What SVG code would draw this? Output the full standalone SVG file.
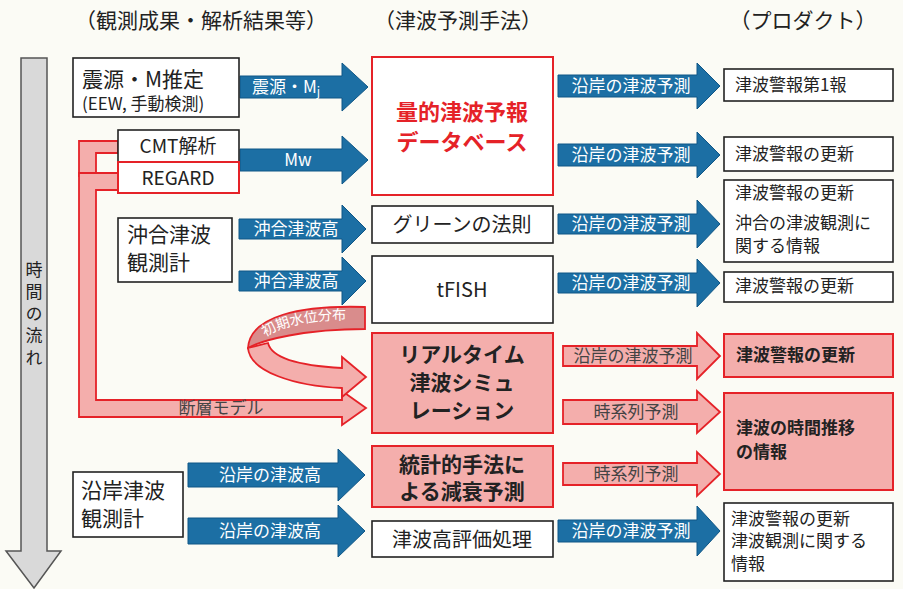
<svg xmlns="http://www.w3.org/2000/svg" width="903" height="589" viewBox="0 0 903 589">
<style>
text{font-family:"Noto Sans CJK JP","Noto Sans",sans-serif;fill:#222}
.hdr{font-size:21px;text-anchor:middle}
.box{fill:#fff;stroke:#222;stroke-width:1.6}
.rbox{fill:#fff;stroke:#e52228;stroke-width:2}
.pbox{fill:#f4aeac;stroke:#e52228;stroke-width:2}
.blue{fill:#1c6fa4;stroke:#0f5686;stroke-width:1}
.pink{fill:#f4aeac;stroke:#e52228;stroke-width:1.8}
.at{font-size:17px;fill:#fff;text-anchor:middle}
.pt{font-size:17px;fill:#444;text-anchor:middle}
.prod{font-size:17px}
.mid{text-anchor:middle}
.b{font-weight:bold}
</style>
<rect width="903" height="589" fill="#fbfbf5"/>
<g id="headers">
<text class="hdr" x="201" y="28">（観測成果・解析結果等）</text>
<text class="hdr" x="458" y="28">（津波予測手法）</text>
<text class="hdr" x="803" y="28">（プロダクト）</text>
</g>
<g id="time">
<polygon points="21,58 47,58 47,551 61,551 34,588 6,551 21,551" fill="#d9d9d9" stroke="#555" stroke-width="1.5"/>
<text x="34" y="261" font-size="17" writing-mode="vertical-rl" letter-spacing="5">時間の流れ</text>
</g>
<g id="connectors">
<polygon class="pink" points="118,141 79,141 79,176 96,176 96,153 118,153"/>
<polygon class="pink" points="118,173 79,173 79,417 342,417 342,425 366,408 342,391 342,400 96,400 96,190 118,190"/>
<text x="221" y="414" font-size="17" text-anchor="middle" style="fill:#444">断層モデル</text>
<path d="M365,307 C300,305 250,316 248,348 C262,340 305,329 365,329 Z" fill="#d98c8c" stroke="#e52228" stroke-width="1.8"/>
<path d="M248,348 C250,372 295,386 342,388 L342,397 L366,377 L342,357 L342,368 C305,366 272,360 268,343 Z" fill="#f4aeac" stroke="#e52228" stroke-width="1.8"/>
<path id="arc" d="M258,344 C272,326 312,318 364,320" fill="none"/>
<text font-size="14" style="fill:#fff"><textPath href="#arc" startOffset="10">初期水位分布</textPath></text>
<polygon class="blue" points="240,76 342,76 342,63 368,87 342,111 342,98 240,98"/>
<text class="at" x="286" y="93" style="fill:#fff">震源・M<tspan font-size="12" dy="3">j</tspan></text>
<polygon class="blue" points="240,149 342,149 342,136 368,160 342,184 342,171 240,171"/>
<text class="at" x="298" y="166" style="fill:#fff">Mw</text>
<polygon class="blue" points="239,219 342,219 342,205 366,229 342,253 342,239 239,239"/>
<text class="at" x="296" y="235" style="fill:#fff">沖合津波高</text>
<polygon class="blue" points="239,271 342,271 342,257 366,281 342,305 342,291 239,291"/>
<text class="at" x="296" y="287" style="fill:#fff">沖合津波高</text>
<polygon class="blue" points="188,463 338,463 338,449 365,475 338,501 338,487 188,487"/>
<text class="at" x="270" y="481" style="fill:#fff">沿岸の津波高</text>
<polygon class="blue" points="188,518 338,518 338,505 365,531 338,557 338,544 188,544"/>
<text class="at" x="270" y="537" style="fill:#fff">沿岸の津波高</text>
<polygon class="blue" points="558,75 697,75 697,63 720,86 697,109 697,97 558,97"/>
<text class="at" x="631" y="92" style="fill:#fff">沿岸の津波予測</text>
<polygon class="blue" points="558,144 697,144 697,132 720,155 697,178 697,166 558,166"/>
<text class="at" x="631" y="161" style="fill:#fff">沿岸の津波予測</text>
<polygon class="blue" points="558,214 697,214 697,200 720,224 697,248 697,234 558,234"/>
<text class="at" x="631" y="230" style="fill:#fff">沿岸の津波予測</text>
<polygon class="blue" points="558,273 697,273 697,259 720,283 697,307 697,293 558,293"/>
<text class="at" x="631" y="289" style="fill:#fff">沿岸の津波予測</text>
<polygon class="pink" points="563,346 697,346 697,333 720,356 697,379 697,366 563,366"/>
<text class="pt" x="633" y="362" style="fill:#444">沿岸の津波予測</text>
<polygon class="pink" points="563,400 697,400 697,391 720,412 697,433 697,424 563,424"/>
<text class="pt" x="636" y="418" style="fill:#444">時系列予測</text>
<polygon class="pink" points="563,463 697,463 697,452 720,474 697,496 697,485 563,485"/>
<text class="pt" x="636" y="480" style="fill:#444">時系列予測</text>
<polygon class="blue" points="558,520 697,520 697,506 720,531 697,556 697,542 558,542"/>
<text class="at" x="631" y="537" style="fill:#fff">沿岸の津波予測</text>
</g>
<g id="n-hypo">
<rect class="box" x="73" y="58" width="166" height="59"/>
<text x="82" y="87" font-size="21">震源・M推定</text>
<text x="82" y="110" font-size="17">(EEW, 手動検測)</text>
</g>
<g id="n-cmt">
<rect class="box" x="118" y="130" width="121" height="32"/>
<text class="mid" x="178" y="153" font-size="19">CMT解析</text>
</g>
<g id="n-regard">
<rect class="rbox" x="118" y="162" width="121" height="31"/>
<text class="mid" x="178" y="185" font-size="19">REGARD</text>
</g>
<g id="n-offshore">
<rect class="box" x="118" y="218" width="114" height="64"/>
<text x="127" y="242" font-size="21">沖合津波</text>
<text x="127" y="270" font-size="21">観測計</text>
</g>
<g id="n-coastal">
<rect class="box" x="73" y="472" width="110" height="65"/>
<text x="81" y="498" font-size="21">沿岸津波</text>
<text x="81" y="526" font-size="21">観測計</text>
</g>
<g id="n-db">
<rect class="rbox" x="372" y="57" width="181" height="138"/>
<text class="mid b" x="462" y="120" font-size="22" style="fill:#e52228">量的津波予報</text>
<text class="mid b" x="462" y="150" font-size="22" style="fill:#e52228">データベース</text>
</g>
<g id="n-green">
<rect class="box" x="372" y="206" width="181" height="37"/>
<text class="mid" x="462" y="232" font-size="20">グリーンの法則</text>
</g>
<g id="n-tfish">
<rect class="box" x="372" y="256" width="181" height="67"/>
<text class="mid" x="462" y="297" font-size="20">tFISH</text>
</g>
<g id="n-sim">
<rect class="pbox" x="372" y="333" width="181" height="100"/>
<text class="mid b" x="462" y="362" font-size="21">リアルタイム</text>
<text class="mid b" x="462" y="390" font-size="21">津波シミュ</text>
<text class="mid b" x="462" y="418" font-size="21">レーション</text>
</g>
<g id="n-stat">
<rect class="pbox" x="372" y="446" width="181" height="61"/>
<text class="mid b" x="462" y="472" font-size="21">統計的手法に</text>
<text class="mid b" x="462" y="499" font-size="21">よる減衰予測</text>
</g>
<g id="n-eval">
<rect class="box" x="372" y="521" width="181" height="36"/>
<text class="mid" x="462" y="547" font-size="20">津波高評価処理</text>
</g>
<g id="p1">
<rect class="box" x="724" y="69" width="169" height="32"/>
<text class="prod" x="735" y="91">津波警報第1報</text>
</g>
<g id="p2">
<rect class="box" x="724" y="137" width="169" height="34"/>
<text class="prod" x="735" y="160">津波警報の更新</text>
</g>
<g id="p3">
<rect class="box" x="724" y="180" width="169" height="82"/>
<text class="prod" x="735" y="199">津波警報の更新</text>
<text class="prod" x="735" y="229">沖合の津波観測に</text>
<text class="prod" x="735" y="252">関する情報</text>
</g>
<g id="p4">
<rect class="box" x="724" y="272" width="169" height="30"/>
<text class="prod" x="735" y="292">津波警報の更新</text>
</g>
<g id="p5">
<rect class="pbox" x="724" y="334" width="169" height="43"/>
<text class="prod b" x="736" y="361">津波警報の更新</text>
</g>
<g id="p6">
<rect class="pbox" x="724" y="393" width="169" height="97"/>
<text class="prod b" x="736" y="434">津波の時間推移</text>
<text class="prod b" x="736" y="458">の情報</text>
</g>
<g id="p7">
<rect class="box" x="724" y="503" width="169" height="78"/>
<text class="prod" x="731" y="525">津波警報の更新</text>
<text class="prod" x="731" y="547">津波観測に関する</text>
<text class="prod" x="731" y="570">情報</text>
</g>
</svg>
